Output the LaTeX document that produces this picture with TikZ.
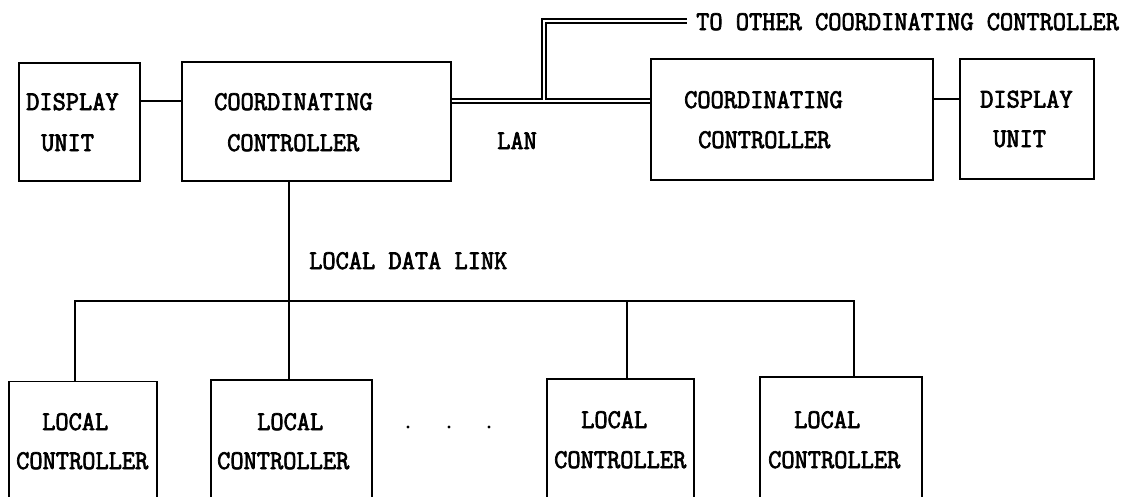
\documentclass[tikz,border=0pt]{standalone}
\usepackage{fontspec}
\newfontfamily\labelfont[FakeBold=2.6,FakeStretch=0.95]{Latin Modern Mono}
\usetikzlibrary{calc}
\tikzset{
  unitbox/.style={draw, line width=1.2pt, inner sep=0pt},
  wire/.style={line width=1.2pt},
  lan/.style={line width=1.2pt, double=white, double distance=2.8pt, line join=miter},
  lbl/.style={anchor=base west, inner sep=0pt, font=\labelfont\fontsize{27}{30}\selectfont},
}
\begin{document}
\begin{tikzpicture}[x=1pt, y=-1pt]
\clip (0,0) rectangle (1133,496);
\fill[white] (0,0) rectangle (1133,496);

% upper row: display units and coordinating controllers
\node[unitbox, minimum width=121pt, minimum height=118pt] (du1) at (79.5,122) {};
\node[unitbox, minimum width=269pt, minimum height=119pt] (cc1) at (316.5,121.5) {};
\node[unitbox, minimum width=282pt, minimum height=121pt] (cc2) at (792,119.5) {};
\node[unitbox, minimum width=134pt, minimum height=120pt] (du2) at (1027,119) {};

% lower row: local controllers (boxes run past the lower edge)
\node[unitbox, minimum width=148pt, minimum height=138pt] (lc1) at (83,450.85) {};
\node[unitbox, minimum width=161pt, minimum height=140pt] (lc2) at (291.5,450) {};
\node[unitbox, minimum width=147pt, minimum height=141pt] (lc3) at (620.5,449.5) {};
\node[unitbox, minimum width=162pt, minimum height=143pt] (lc4) at (841,448.5) {};

% labels
\node[lbl] (du1a) at (26,110) {DISPLAY};
\node[lbl] (du1b) at (41,151) {UNIT};
\node[lbl] (cc1a) at (214,110) {COORDINATING};
\node[lbl] (cc1b) at (227,151) {CONTROLLER};
\node[lbl] (lanl) at (497,149) {LAN};
\node[lbl] (cc2a) at (684,108) {COORDINATING};
\node[lbl] (cc2b) at (698,148) {CONTROLLER};
\node[lbl] (du2a) at (980,107.5) {DISPLAY};
\node[lbl] (du2b) at (993,147) {UNIT};
\node[lbl] (oth) at (696,30) {TO OTHER COORDINATING CONTROLLER};
\node[lbl] (ldl) at (309,269) {LOCAL DATA LINK};
\node[lbl] (lc1a) at (42,430) {LOCAL};
\node[lbl] (lc1b) at (16,469) {CONTROLLER};
\node[lbl] (lc2a) at (257,430) {LOCAL};
\node[lbl] (lc2b) at (217,469) {CONTROLLER};
\node[lbl] (lc3a) at (581,428) {LOCAL};
\node[lbl] (lc3b) at (554,468) {CONTROLLER};
\node[lbl] (lc4a) at (794,428) {LOCAL};
\node[lbl] (lc4b) at (768,468) {CONTROLLER};

% display links
\draw[wire] (du1.east |- 0,101) -- (cc1.west |- 0,101);
\draw[wire] (cc2.east |- 0,99) -- (du2.west |- 0,99);

% LAN (double line) and its branch to the other coordinating controllers
\coordinate (tap) at (544,99.6);
\coordinate (farend) at (687,21);
\draw[lan] (cc1.east |- 0,101) -- (cc2.west |- 0,101);
\draw[lan] (tap) |- (farend);

% local data link
\coordinate (bus) at (289,301);
\draw[wire] (cc1.south -| bus) -- (lc2.north -| bus);
\draw[wire] (lc1.north -| 75,0) |- (bus) -| (lc4.north -| 854,0);
\draw[wire] (lc3.north -| 627,0) -- (bus -| 627,0);

% ellipsis between the local controllers
\foreach \px in {408,449,489}
  \fill (\px,427) circle (1.6pt);
\end{tikzpicture}
\end{document}
